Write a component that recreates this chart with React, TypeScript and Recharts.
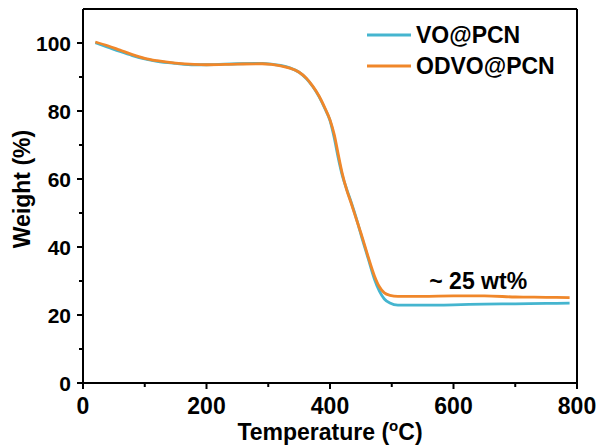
import { LineChart, Line, XAxis, YAxis, ReferenceLine, ReferenceDot, Legend } from "recharts";

// TGA curves
const temps = [
  20, 40, 60, 80, 100, 120, 150, 180, 200, 250, 290, 305, 320, 335, 350, 362, 372, 382, 392, 400, 407, 413,
  420, 427, 435, 443, 452, 462, 472, 480, 488, 497, 510, 550, 600, 650, 700, 750, 788,
];
const voPcn = [
  100.1, 98.8, 97.5, 96.3, 95.3, 94.6, 94.0, 93.6, 93.6, 93.9, 94.0, 93.8, 93.4, 92.7, 91.4, 89.5, 87.2,
  84.3, 80.6, 77.2, 72, 66.5, 61, 57, 52.8, 48.2, 42.5, 36.5, 30.5, 27, 24.7, 23.5, 22.9, 22.9, 23.0, 23.2,
  23.3, 23.4, 23.5,
];
const odvoPcn = [
  100.3, 99.2, 97.9, 96.6, 95.5, 94.8, 94.1, 93.7, 93.6, 93.8, 93.9, 93.7, 93.3, 92.6, 91.4, 89.6, 87.3,
  84.5, 80.8, 77.4, 73, 67.6, 61.5, 56.8, 52.5, 48, 43, 37, 31.5, 28.3, 26.5, 25.8, 25.5, 25.5, 25.6, 25.6,
  25.3, 25.2, 25.1,
];
const xTicks = [0, 100, 200, 300, 400, 500, 600, 700, 800];
const yTicks = [0, 10, 20, 30, 40, 50, 60, 70, 80, 90, 100];
const seriesNames = ["VO@PCN", "ODVO@PCN"];

const CYAN = "#45b5cf";
const ORANGE = "#f0872a";
const FONT = "'Liberation Sans', Arial, sans-serif";

const data = temps.map((t, i) => ({ t, vo: voPcn[i], odvo: odvoPcn[i] }));

function XTick({ x, y, payload }: any) {
  const major = payload.value % 200 === 0;
  return (
    <g>
      <line x1={x} x2={x} y1={y} y2={y + (major ? 6 : 4)} stroke="#000" strokeWidth={2} />
      {major && (
        <text x={x} y={y + 31} textAnchor="middle" fontSize={23} fontWeight="bold" fontFamily={FONT} fill="#000">
          {payload.value}
        </text>
      )}
    </g>
  );
}

function YTick({ x, y, payload }: any) {
  const major = payload.value % 20 === 0;
  return (
    <g>
      <line x1={x} x2={x - (major ? 6 : 4)} y1={y} y2={y} stroke="#000" strokeWidth={2} />
      {major && (
        <text x={x - 12} y={y + 7.5} textAnchor="end" fontSize={21} fontWeight="bold" fontFamily={FONT} fill="#000">
          {payload.value}
        </text>
      )}
    </g>
  );
}

function LegendBox() {
  const colors = [CYAN, ORANGE];
  return (
    <svg width={220} height={70}>
      {seriesNames.map((name, i) => (
        <g key={name}>
          <line x1={7} x2={51} y1={20 + i * 31} y2={20 + i * 31} stroke={colors[i]} strokeWidth={3} />
          <text x={56} y={20 + i * 31 + 8} fontSize={23} fontWeight="bold" fontFamily={FONT} fill="#000">
            {name}
          </text>
        </g>
      ))}
    </svg>
  );
}

export default function App() {
  return (
    <div style={{ position: "absolute", left: 0, top: 0, width: 598, height: 447, background: "#fff" }}>
      <LineChart width={598} height={447} data={data} margin={{ top: 9, right: 21, left: 0, bottom: 0 }}>
        <XAxis
          dataKey="t"
          type="number"
          domain={[0, 800]}
          ticks={xTicks}
          height={64}
          tickSize={0}
          tickMargin={0}
          tickLine={false}
          tick={<XTick />}
          axisLine={{ stroke: "#000", strokeWidth: 2 }}
          interval={0}
          label={() => (
            <text x={330} y={440} textAnchor="middle" fontSize={23} fontWeight="bold" fontFamily={FONT} fill="#000">
              Temperature (
              <tspan fontSize={15} dy={-9}>
                o
              </tspan>
              <tspan dy={9}>C)</tspan>
            </text>
          )}
        />
        <YAxis
          type="number"
          domain={[0, 110]}
          ticks={yTicks}
          width={83}
          tickSize={0}
          tickMargin={0}
          tickLine={false}
          tick={<YTick />}
          axisLine={{ stroke: "#000", strokeWidth: 2 }}
          interval={0}
          label={() => (
            <text
              x={22}
              y={189}
              transform="rotate(-90 22 189)"
              textAnchor="middle"
              dominantBaseline="central"
              fontSize={23}
              fontWeight="bold"
              fontFamily={FONT}
              fill="#000"
            >
              Weight (%)
            </text>
          )}
        />
        <ReferenceLine y={110} stroke="#000" strokeWidth={2} />
        <ReferenceLine x={800} stroke="#000" strokeWidth={2} />
        <Legend
          layout="vertical"
          align="center"
          verticalAlign="middle"
          wrapperStyle={{ left: 360, top: 15, width: 220, height: 70 }}
          content={() => <LegendBox />}
        />
        <Line
          type="monotone"
          dataKey="vo"
          name={seriesNames[0]}
          stroke={CYAN}
          strokeWidth={2.8}
          dot={false}
          isAnimationActive={false}
        />
        <Line
          type="monotone"
          dataKey="odvo"
          name={seriesNames[1]}
          stroke={ORANGE}
          strokeWidth={2.8}
          dot={false}
          isAnimationActive={false}
        />
        <ReferenceDot
          x={640}
          y={30}
          r={0}
          stroke="none"
          label={({ viewBox }: any) => (
            <text
              x={viewBox.x}
              y={viewBox.y + 8}
              textAnchor="middle"
              fontSize={23}
              fontWeight="bold"
              fontFamily={FONT}
              fill="#000"
            >
              ~ 25 wt%
            </text>
          )}
        />
      </LineChart>
    </div>
  );
}
